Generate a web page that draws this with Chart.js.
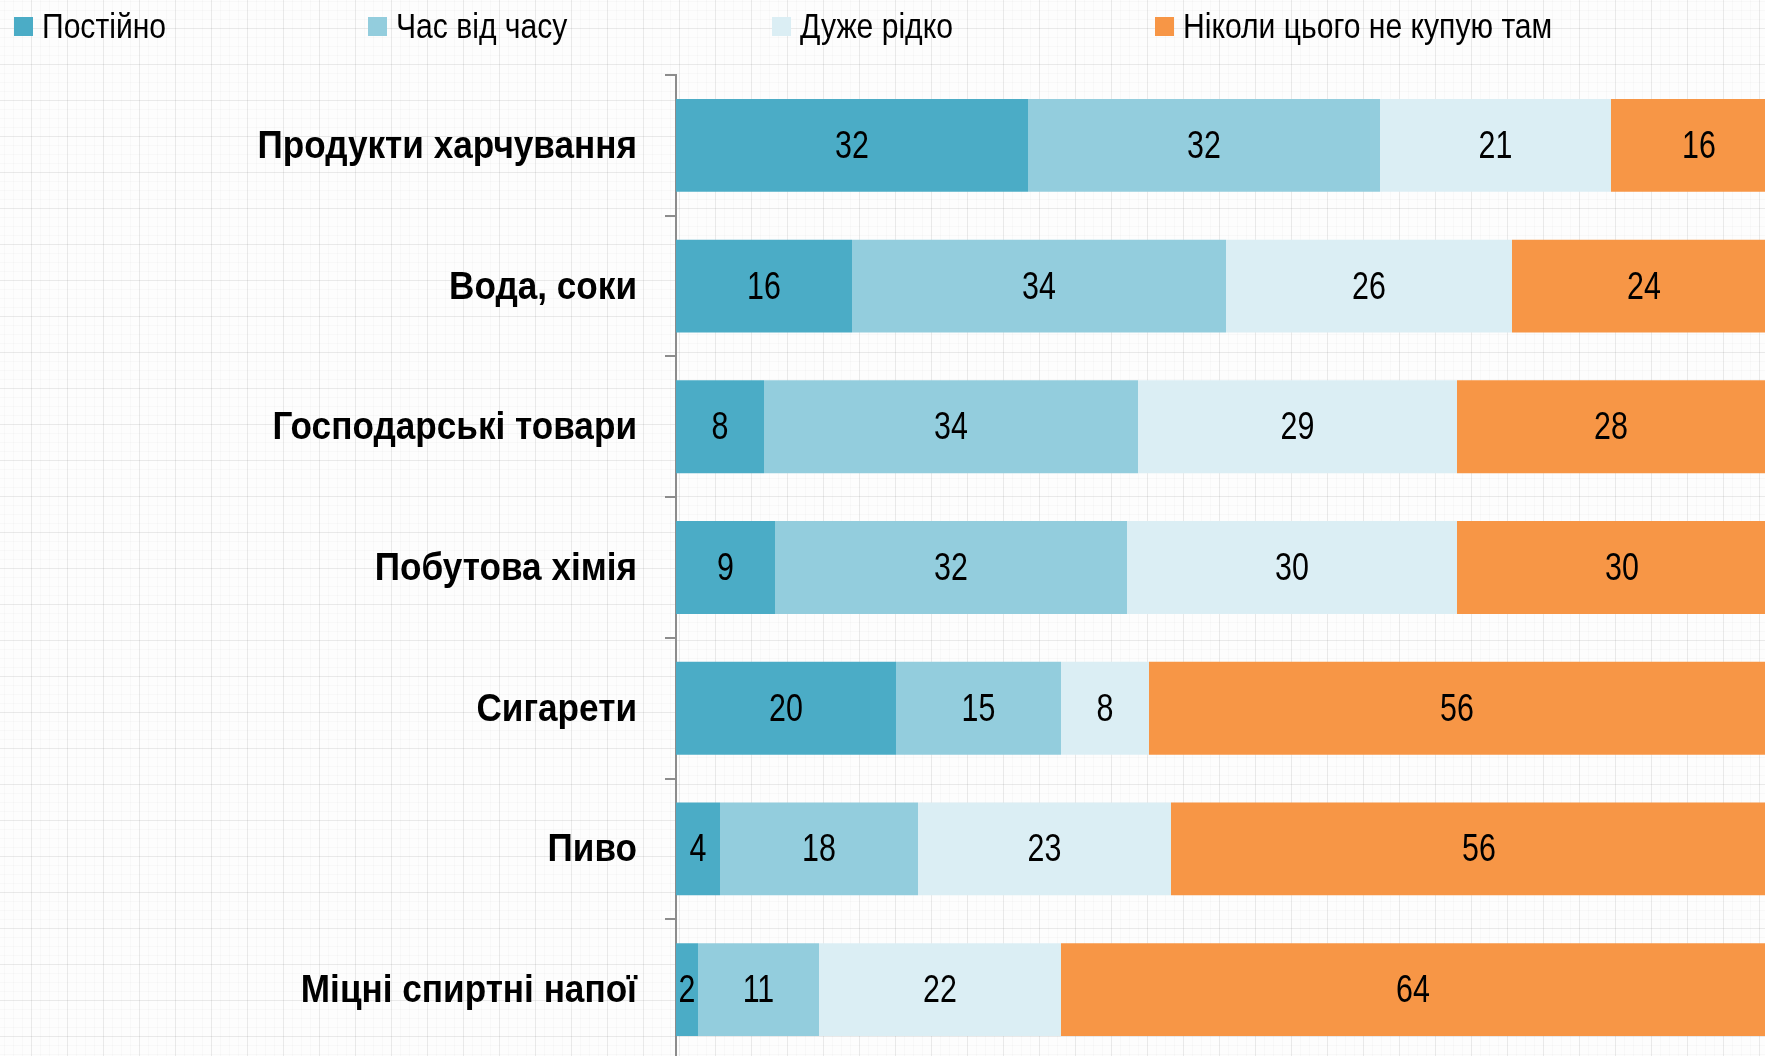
<!DOCTYPE html>
<html>
<head>
<meta charset="utf-8">
<script src="https://cdn.jsdelivr.net/npm/chart.js@4/dist/chart.umd.min.js"></script>
<style>
  html, body { margin: 0; padding: 0; width: 1765px; height: 1056px; overflow: hidden; }
  body {
    background-color: #fdfdfd;
    background-image:
      linear-gradient(to right, rgba(0,0,0,0.06) 1px, transparent 1px),
      linear-gradient(to bottom, rgba(0,0,0,0.06) 1px, transparent 1px),
      linear-gradient(to right, rgba(0,0,0,0.02) 1px, transparent 1px),
      linear-gradient(to bottom, rgba(0,0,0,0.02) 1px, transparent 1px);
    background-size: 36px 36px, 36px 36px, 9px 9px, 9px 9px;
    background-position: 31px 28px, 31px 28px, 4px 1px, 4px 1px;
    font-family: "Liberation Sans", Arial, sans-serif;
  }
  #chart { position: absolute; left: 0; top: 0; }
  #legend { position: absolute; left: 0; top: 0; width: 1765px; height: 60px; }
  .item { position: absolute; top: 6px; height: 40px; display: flex; align-items: center; white-space: nowrap; }
  .box { width: 19px; height: 19px; margin-right: 9px; flex: none; }
  .txt { display: inline-block; font-size: 35px; color: #000; line-height: 40px; transform: scaleX(0.86); transform-origin: left center; }
</style>
</head>
<body>
<canvas id="chart" width="1890" height="1065"></canvas>
<div id="legend"></div>
<script>
const categories = [
  "Продукти харчування",
  "Вода, соки",
  "Господарські товари",
  "Побутова хімія",
  "Сигарети",
  "Пиво",
  "Міцні спиртні напої"
];
const seriesNames = ["Постійно", "Час від часу", "Дуже рідко", "Ніколи цього не купую там"];
const constantly = [32, 16, 8, 9, 20, 4, 2];
const sometimes  = [32, 34, 34, 32, 15, 18, 11];
const rarely     = [21, 26, 29, 30, 8, 23, 22];
const never      = [16, 24, 28, 30, 56, 56, 64];
const seriesColors = ["#4bacc6", "#93cddd", "#dbeef4", "#f79646"];
const legendX = [14, 368, 772, 1155];

const FONT = '"Liberation Sans", Arial, sans-serif';
const TICK_LEN = 11;
const TICK_PAD = 28;

// Narrow-looking text: draw with horizontal compression
function narrowText(ctx, text, x, y, sx, align) {
  ctx.save();
  ctx.translate(x, y);
  ctx.scale(sx, 1);
  ctx.textAlign = align;
  ctx.fillText(text, 0, 0);
  ctx.restore();
}

const valueLabels = {
  id: 'valueLabels',
  afterDatasetsDraw(chart) {
    const ctx = chart.ctx;
    ctx.save();
    ctx.font = '38px ' + FONT;
    ctx.fillStyle = '#000';
    ctx.textBaseline = 'middle';
    chart.data.datasets.forEach((ds, i) => {
      const meta = chart.getDatasetMeta(i);
      meta.data.forEach((el, j) => {
        const cx = (el.x + el.base) / 2;
        narrowText(ctx, String(ds.data[j]), cx, el.y + 2, 0.8, 'center');
      });
    });
    ctx.restore();
  }
};

const categoryLabels = {
  id: 'categoryLabels',
  afterDraw(chart) {
    const scale = chart.scales.y;
    const ctx = chart.ctx;
    ctx.save();
    ctx.font = 'bold 38px ' + FONT;
    ctx.fillStyle = '#000';
    ctx.textBaseline = 'middle';
    const x = scale.right - TICK_LEN - TICK_PAD;
    chart.data.labels.forEach((lab, i) => {
      const y = scale.getPixelForTick(i);
      narrowText(ctx, lab, x, y + 2, 0.925, 'right');
    });
    ctx.restore();
  }
};

const seriesData = [constantly, sometimes, rarely, never];

new Chart(document.getElementById('chart'), {
  type: 'bar',
  data: {
    labels: categories,
    datasets: seriesNames.map((name, i) => ({
      label: name,
      data: seriesData[i],
      backgroundColor: seriesColors[i],
      borderWidth: 0,
      barPercentage: 0.66,
      categoryPercentage: 1.0
    }))
  },
  options: {
    indexAxis: 'y',
    responsive: false,
    animation: false,
    layout: { padding: { top: 75, bottom: 5, left: 0, right: 4 } },
    plugins: { legend: { display: false }, tooltip: { enabled: false } },
    scales: {
      x: { stacked: true, display: false, min: 0, max: 110 },
      y: {
        stacked: true,
        grid: { offset: true, drawOnChartArea: false, drawTicks: true, tickLength: TICK_LEN, color: '#8c8c8c', lineWidth: 2 },
        border: { display: true, color: '#8c8c8c', width: 2 },
        ticks: { display: false },
        afterFit(scale) { scale.width = 676; }
      }
    }
  },
  plugins: [valueLabels, categoryLabels]
});

const legend = document.getElementById('legend');
seriesNames.forEach((name, i) => {
  const item = document.createElement('div');
  item.className = 'item';
  item.style.left = legendX[i] + 'px';
  const box = document.createElement('div');
  box.className = 'box';
  box.style.background = seriesColors[i];
  const txt = document.createElement('span');
  txt.className = 'txt';
  txt.textContent = name;
  item.appendChild(box);
  item.appendChild(txt);
  legend.appendChild(item);
});
</script>
</body>
</html>
